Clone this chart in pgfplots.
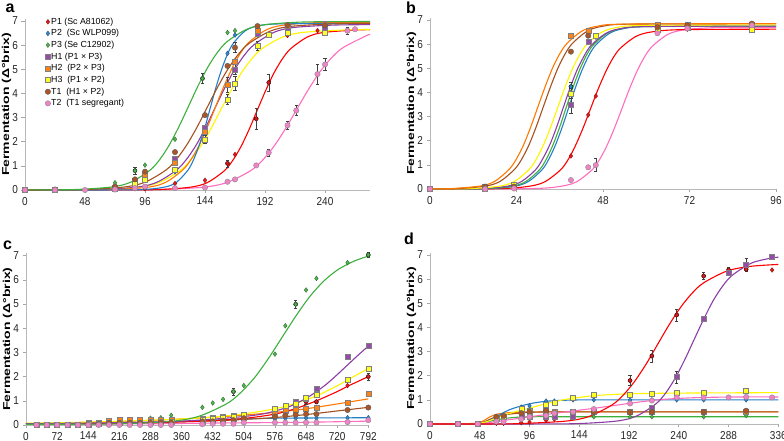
\documentclass[border=0pt]{standalone}
\usepackage{fontspec}
\setmainfont{Liberation Sans}
\usepackage{graphicx}
\usepackage{pgfplots}
\pgfplotsset{compat=1.18}

\definecolor{lRed}{RGB}{255,0,0}
\definecolor{lBlue}{RGB}{35,125,200}
\definecolor{lGreen}{RGB}{60,175,60}
\definecolor{lPurple}{RGB}{140,60,165}
\definecolor{lOrange}{RGB}{255,120,0}
\definecolor{lYellow}{RGB}{255,245,0}
\definecolor{lBrown}{RGB}{165,80,30}
\definecolor{lPink}{RGB}{255,110,190}
\definecolor{mRed}{RGB}{230,25,25}
\definecolor{mBlue}{RGB}{50,135,205}
\definecolor{mGreen}{RGB}{80,180,80}
\definecolor{mPurple}{RGB}{150,75,170}
\definecolor{mOrange}{RGB}{255,130,20}
\definecolor{mYellow}{RGB}{255,255,40}
\definecolor{mBrown}{RGB}{170,85,40}
\definecolor{mPink}{RGB}{240,130,200}

\pgfplotsset{
  base/.style={
    scale only axis, clip=false, anchor=south west,
    axis lines*=left,
    axis line style={-, draw=black!28, line width=0.8pt},
    tick align=outside, major tick length=3.5pt,
    tick style={draw=black!35, line width=0.6pt},
    ymin=0, ymax=7.1, ytick={0,1,...,7},
    tick label style={font=\fontsize{10}{10}\selectfont, text=black!85},
    /pgf/number format/assume math mode=true,
    xticklabel={\scalebox{1}[1.15]{\pgfmathprintnumber{\tick}}},
    yticklabel={\scalebox{1}[1.15]{\pgfmathprintnumber{\tick}}},
    every axis y label/.style={at={([xshift=-18.5pt]axis description cs:0,0.5)}, rotate=90, anchor=center},
    ylabel={\scalebox{1.4}[1]{\bfseries\fontsize{10}{10}\selectfont Fermentation (Δ°brix)}},
  },
  cv/.style={smooth, no markers, line width=1.1pt, forget plot, color=#1},
  eb/.style={only marks, mark=none, forget plot,
    error bars/.cd, y dir=both, y explicit,
    error bar style={black!75, line width=0.5pt},
    error mark options={rotate=90, mark size=1.6pt, black!75, line width=0.5pt}},
  sP1/.style={only marks, mark=diamond*, mark size=2.4pt, color=mRed, mark options={fill=mRed, draw=mRed!60!black, line width=0.35pt}},
  sP2/.style={only marks, mark=diamond*, mark size=2.4pt, color=mBlue, mark options={fill=mBlue, draw=mBlue!60!black, line width=0.35pt}},
  sP3/.style={only marks, mark=diamond*, mark size=2.4pt, color=mGreen, mark options={fill=mGreen, draw=mGreen!60!black, line width=0.35pt}},
  sH1/.style={only marks, mark=square*, mark size=2.5pt, color=mPurple, mark options={fill=mPurple, draw=black!50, line width=0.4pt}},
  sH2/.style={only marks, mark=square*, mark size=2.5pt, color=mOrange, mark options={fill=mOrange, draw=black!50, line width=0.4pt}},
  sH3/.style={only marks, mark=square*, mark size=2.5pt, color=mYellow, mark options={fill=mYellow, draw=black!50, line width=0.4pt}},
  sT1/.style={only marks, mark=*, mark size=2.7pt, color=mBrown, mark options={fill=mBrown, draw=black!65, line width=0.4pt}},
  sT2/.style={only marks, mark=*, mark size=2.7pt, color=mPink, mark options={fill=mPink, draw=black!45, line width=0.4pt}},
}

\begin{document}
\begin{tikzpicture}[x=1pt,y=1pt]
\useasboundingbox (0,0) rectangle (784,441);

% ---------------- panel a ----------------
\begin{axis}[base, at={(25pt,251pt)}, width=345pt, height=171.4pt,
  xmin=0, xmax=276, xtick={0,48,...,240},
  legend style={at={(axis description cs:0.058,1.011)}, anchor=north west, draw=none, fill=none,
    inner sep=0pt, font=\fontsize{8.8}{9}\selectfont, row sep=1.85pt,
    nodes={inner sep=0.6pt, text height=6.8pt, text depth=1.8pt}, cells={anchor=west}},
  legend image code/.code={\draw[#1] plot coordinates {(0.08cm,0cm)};}]
\addplot[cv=lPink] coordinates {(0,0)(60,0.001)(106.5,0.017)(143.5,0.12)(162,0.32)(180.5,0.80)(189.8,1.22)(199,1.80)(208.3,2.53)(217.5,3.35)(226.8,4.17)(236,4.90)(245.3,5.48)(254.5,5.90)(273,6.39)(276,6.44)};
\addplot[cv=lRed] coordinates {(0,0)(60,0.002)(106,0.017)(132.7,0.12)(146,0.31)(159.3,0.79)(166,1.21)(172.7,1.79)(179.3,2.51)(186,3.33)(192.7,4.14)(199.3,4.86)(206,5.44)(212.7,5.86)(226,6.34)(239.3,6.53)(266,6.63)(276,6.64)};
\addplot[cv=lYellow] coordinates {(0,0)(57.7,0.017)(90.7,0.12)(107.2,0.31)(123.7,0.79)(132,1.21)(140.2,1.79)(148.5,2.51)(156.7,3.33)(165,4.14)(173.2,4.86)(181.5,5.44)(189.7,5.86)(206.2,6.34)(222.7,6.53)(255.7,6.63)(276,6.65)};
\addplot[cv=lPurple] coordinates {(0,0)(58.7,0.017)(89.9,0.123)(105.5,0.32)(121.1,0.82)(128.9,1.25)(136.7,1.84)(144.5,2.59)(152.3,3.43)(160.1,4.26)(167.9,5.01)(175.7,5.60)(183.5,6.03)(199.1,6.53)(214.7,6.73)(245.9,6.83)(276,6.85)};
\addplot[cv=lOrange] coordinates {(0,0)(40,0.001)(73.2,0.017)(99.7,0.125)(113,0.33)(126.2,0.83)(132.8,1.26)(139.5,1.87)(146.1,2.63)(152.7,3.48)(159.3,4.32)(166,5.08)(172.6,5.69)(179.2,6.12)(192.5,6.62)(205.7,6.82)(232.2,6.93)(276,6.95)};
\addplot[cv=lBlue] coordinates {(0,0)(60,0.001)(94,0.017)(112.1,0.124)(121.2,0.32)(130.3,0.82)(134.9,1.26)(139.4,1.86)(144,2.61)(148.5,3.45)(153,4.29)(157.6,5.04)(162.1,5.64)(166.7,6.08)(175.8,6.58)(184.9,6.78)(203,6.88)(276,6.9)};
\addplot[cv=lBrown] coordinates {(0,0.001)(45.8,0.017)(79.2,0.124)(95.9,0.32)(112.6,0.82)(121,1.26)(129.3,1.86)(137.7,2.61)(146,3.45)(154.4,4.29)(162.7,5.04)(171,5.64)(179.4,6.08)(196.1,6.58)(212.8,6.78)(246.2,6.88)(276,6.9)};
\addplot[cv=lGreen] coordinates {(0,0.002)(38.7,0.017)(69.5,0.126)(84.9,0.33)(100.2,0.83)(107.9,1.27)(115.6,1.88)(123.3,2.64)(131,3.49)(138.7,4.34)(146.4,5.10)(154.1,5.71)(161.8,6.15)(177.1,6.65)(192.5,6.85)(223.3,6.96)(276,6.98)};
\addplot[eb] coordinates {(88,0.8)+-(0,0.15) (142,4.62)+-(0,0.2) (185,2.95)+-(0,0.45) (195,4.45)+-(0,0.35) (162,1.1)+-(0,0.15) (162,4.35)+-(0,0.3) (162,3.75)+-(0,0.2) (168,4.42)+-(0,0.3) (144,2.1)+-(0,0.15) (168,5.0)+-(0,0.2) (210,2.68)+-(0,0.15) (217,3.29)+-(0,0.2) (234,4.8)+-(0,0.4) (240,5.2)+-(0,0.25) (258,6.6)+-(0,0.15) (195,1.55)+-(0,0.15) (168,5.9)+-(0,0.2) (186,5.97)+-(0,0.2)};
\addplot[sP1] coordinates {(0,0)(24,0)(72,0.02)(88,0.05)(96,0.05)(120,0.27)(144,0.4)(162,1.1)(168,1.47)(185,2.95)(195,4.45)(210,6.4)(234,6.6)};
\addlegendentry{P1 (Sc A81062)}
\addplot[sP2] coordinates {(0,0)(24,0)(72,0.05)(88,0.1)(96,0.1)(120,0.75)(144,2.35)(162,5.66)(168,6.42)(186,6.75)(210,6.8)(240,6.85)};
\addlegendentry{P2\hspace{0.55em}(Sc WLP099)}
\addplot[sP3] coordinates {(0,0)(24,0.02)(72,0.3)(88,0.8)(96,1.03)(120,2.1)(142,4.62)(162,6.52)(168,6.6)};
\addlegendentry{P3 (Se C12902)}
\addplot[sH1] coordinates {(0,0)(24,0)(72,0.08)(88,0.3)(96,0.5)(120,1.3)(144,2.58)(168,5.0)(186,6.46)(210,6.6)(240,6.7)};
\addlegendentry{H1 (P1 × P3)}
\addplot[sH2] coordinates {(0,0)(24,0)(72,0.1)(88,0.4)(96,0.62)(120,1.13)(144,2.4)(162,4.35)(168,5.3)(186,6.6)(210,6.8)(240,6.9)};
\addlegendentry{H2\hspace{0.55em}(P2 × P3)}
\addplot[sH3] coordinates {(0,0)(24,0)(72,0.05)(88,0.28)(96,0.41)(120,0.83)(144,2.1)(162,3.75)(168,4.42)(186,5.97)(195,6.45)(210,6.52)(240,6.52)};
\addlegendentry{H3\hspace{0.55em}(P1 × P2)}
\addplot[sT1] coordinates {(0,0)(24,0.02)(72,0.14)(88,0.44)(96,0.76)(120,1.57)(144,3.1)(162,5.14)(168,5.9)(186,6.79)(210,6.83)(240,6.83)};
\addlegendentry{T1\hspace{0.55em}(H1 × P2)}
\addplot[sT2] coordinates {(0,0)(24,0)(48,0)(72,0.02)(88,0.08)(96,0.14)(120,0.08)(144,0.1)(162,0.34)(168,0.44)(185,1.02)(195,1.55)(210,2.68)(217,3.29)(234,4.8)(240,5.2)(258,6.6)(264,6.66)};
\addlegendentry{T2\hspace{0.55em}(T1 segregant)}
\end{axis}

% ---------------- panel b ----------------
\begin{axis}[base, at={(430pt,252pt)}, width=346pt, height=171.4pt,
  xmin=0, xmax=96, xtick={0,24,...,96}]
\addplot[cv=lPink] coordinates {(0,0)(28.3,0.017)(36.6,0.12)(40.8,0.31)(45,0.80)(47.05,1.22)(49.1,1.80)(51.2,2.53)(53.3,3.35)(55.4,4.17)(57.5,4.90)(59.55,5.48)(61.6,5.90)(65.8,6.39)(70,6.58)(78.3,6.68)(96,6.7)};
\addplot[cv=lRed] coordinates {(0,0)(19.5,0.017)(27.8,0.12)(32,0.31)(36.2,0.79)(38.25,1.20)(40.3,1.78)(42.4,2.50)(44.5,3.31)(46.6,4.12)(48.7,4.84)(50.75,5.42)(52.8,5.83)(57,6.31)(61.2,6.50)(69.5,6.60)(96,6.62)};
\addplot[cv=lBlue] coordinates {(0,0.002)(16.3,0.017)(23.7,0.12)(27.4,0.32)(31.1,0.80)(32.95,1.23)(34.8,1.82)(36.65,2.55)(38.5,3.38)(40.35,4.20)(42.2,4.93)(44.05,5.52)(45.9,5.95)(49.6,6.43)(53.3,6.63)(60.7,6.73)(96,6.75)};
\addplot[cv=lGreen] coordinates {(0,0.002)(15.6,0.017)(23,0.12)(26.7,0.32)(30.4,0.80)(32.25,1.23)(34.1,1.82)(35.95,2.55)(37.8,3.38)(39.65,4.20)(41.5,4.93)(43.35,5.52)(45.2,5.95)(48.9,6.43)(52.6,6.63)(60,6.73)(96,6.75)};
\addplot[cv=lPurple] coordinates {(0,0.002)(13.9,0.017)(21.6,0.12)(25.5,0.32)(29.3,0.80)(31.2,1.23)(33.2,1.82)(35.1,2.55)(37,3.38)(38.9,4.20)(40.8,4.93)(42.8,5.52)(44.7,5.95)(48.6,6.43)(52.4,6.63)(60.1,6.73)(96,6.75)};
\addplot[cv=lYellow] coordinates {(0,0.002)(11.5,0.017)(19.5,0.122)(23.5,0.32)(27.5,0.81)(29.5,1.24)(31.5,1.83)(33.5,2.57)(35.5,3.4)(37.5,4.23)(39.5,4.97)(41.5,5.56)(43.5,5.99)(47.5,6.48)(51.5,6.68)(59.5,6.78)(96,6.8)};
\addplot[cv=lBrown] coordinates {(0,0.003)(7.5,0.017)(15.5,0.123)(19.5,0.32)(23.5,0.82)(25.5,1.25)(27.5,1.84)(29.5,2.59)(31.5,3.43)(33.5,4.26)(35.5,5.01)(37.5,5.60)(39.5,6.03)(43.5,6.53)(47.5,6.73)(55.5,6.83)(96,6.85)};
\addplot[cv=lOrange] coordinates {(0,0.004)(6,0.017)(14,0.123)(18,0.32)(22,0.82)(24,1.25)(26,1.84)(28,2.59)(30,3.43)(32,4.26)(34,5.01)(36,5.60)(38,6.03)(42,6.53)(46,6.73)(54,6.83)(96,6.85)};
\addplot[eb] coordinates {(39.1,3.48)+-(0,0.35) (46,0.99)+-(0,0.27) (39.1,4.24)+-(0,0.2) (39.1,3.96)+-(0,0.2)};
\addplot[sP1] coordinates {(0,0)(15.3,0)(23.3,0.02)(39.1,1.37)(43.9,3.07)(46,3.85)(63.1,6.6)(71.4,6.62)(89.3,6.62)};
\addplot[sP2] coordinates {(0,0)(15.3,0.02)(23.3,0.05)(39.1,4.24)(46,6.3)(63.1,6.75)(71.4,6.75)(89.3,6.8)};
\addplot[sP3] coordinates {(0,0)(15.3,0.02)(23.3,0.05)(39.1,4.0)(46,6.3)(63.1,6.75)(71.4,6.75)(89.3,6.8)};
\addplot[sH1] coordinates {(0,0)(15.3,0.03)(23.3,0.1)(39.1,3.48)(43.9,6.1)(63.1,6.75)(71.4,6.75)(89.3,6.8)};
\addplot[sH2] coordinates {(0,0)(15.3,0.1)(23.3,0.15)(39.1,6.35)(43.9,6.56)(63.1,6.82)(71.4,6.8)(89.3,6.82)};
\addplot[sH3] coordinates {(0,0)(15.3,0.05)(23.3,0.18)(39.1,3.96)(46,6.35)(63.1,6.6)(71.4,6.7)(89.3,6.6)};
\addplot[sT1] coordinates {(0,0)(15.3,0.1)(23.3,0.1)(39.1,5.69)(43.9,6.35)(63.1,6.7)(71.4,6.78)(89.3,6.85)};
\addplot[sT2] coordinates {(0,0)(15.3,0)(23.3,0.02)(39.1,0.37)(43.9,0.9)(46,0.99)(63.1,6.45)(71.4,6.65)(89.3,6.78)};
\end{axis}

% ---------------- panel c ----------------
\begin{axis}[base, at={(26pt,16pt)}, width=342.3pt, height=171.8pt,
  xmin=0, xmax=792, xtick={0,72,...,792}]
\addplot[cv=lPink] coordinates {(0,0.03)(288,0.05)(432,0.08)(576,0.1)(672,0.12)(792,0.16)};
\addplot[cv=lBlue] coordinates {(0,0.04)(144,0.06)(288,0.1)(360,0.15)(432,0.2)(504,0.25)(576,0.28)(648,0.29)(792,0.3)};
\addplot[cv=lBrown] coordinates {(0,0.04)(144,0.06)(288,0.1)(432,0.17)(504,0.23)(576,0.31)(648,0.43)(720,0.58)(792,0.73)};
\addplot[cv=lOrange] coordinates {(0,0.06)(144,0.11)(288,0.19)(432,0.32)(504,0.41)(576,0.52)(648,0.67)(720,0.87)(792,1.08)};
\addplot[cv=lRed] coordinates {(0,0.05)(144,0.06)(288,0.1)(360,0.13)(432,0.18)(504,0.27)(576,0.45)(624,0.68)(672,1.0)(720,1.38)(744,1.6)(768,1.8)(792,2.0)};
\addplot[cv=lYellow] coordinates {(0,0.07)(144,0.12)(288,0.2)(360,0.25)(432,0.33)(504,0.46)(576,0.67)(624,0.9)(672,1.2)(720,1.62)(744,1.86)(768,2.1)(792,2.33)};
\addplot[cv=lPurple] coordinates {(0,0.05)(144,0.08)(288,0.12)(360,0.16)(432,0.24)(504,0.35)(552,0.47)(600,0.7)(624,0.88)(648,1.1)(672,1.38)(696,1.7)(720,2.08)(744,2.48)(768,2.88)(792,3.26)};
\addplot[cv=lGreen] coordinates {(0,0.03)(206.5,0.045)(335.5,0.15)(400,0.36)(464.5,0.88)(496.8,1.34)(529,1.96)(561.3,2.76)(593.5,3.65)(625.8,4.54)(658,5.34)(690.3,5.97)(722.5,6.43)(760,6.78)(792,6.98)};
\addplot[eb] coordinates {(480,1.38)+-(0,0.15) (624,4.99)+-(0,0.15) (792,7.03)+-(0,0.1) (792,2.0)+-(0,0.15) (648,0.96)+-(0,0.1) (672,0.96)+-(0,0.08) (792,2.31)+-(0,0.1)};
\addplot[sP1] coordinates {(24,0)(48,0)(72,0)(96,0)(120,0)(144,0.02)(168,0.02)(192,0.05)(216,0.05)(240,0.05)(264,0.05)(288,0.08)(312,0.08)(336,0.08)(408,0.1)(432,0.12)(456,0.15)(480,0.2)(504,0.22)(576,0.48)(600,0.55)(624,0.7)(648,0.96)(672,0.96)(744,1.63)(792,2.0)};
\addplot[sP2] coordinates {(24,0)(48,0)(72,0)(96,0)(120,0)(144,0.02)(168,0.03)(192,0.05)(216,0.06)(240,0.08)(264,0.08)(288,0.1)(312,0.1)(336,0.12)(408,0.12)(432,0.15)(456,0.18)(480,0.2)(504,0.2)(576,0.25)(600,0.27)(624,0.28)(648,0.28)(672,0.28)(744,0.3)(792,0.3)};
\addplot[sP3] coordinates {(24,0)(48,0)(72,0)(96,0)(120,0)(144,0.02)(168,0.03)(192,0.05)(216,0.1)(240,0.12)(264,0.15)(288,0.28)(312,0.3)(336,0.4)(408,0.73)(432,0.91)(456,1.06)(480,1.38)(504,1.63)(576,2.93)(600,4.1)(624,4.99)(648,5.58)(672,6.06)(744,6.71)(792,7.03)};
\addplot[sH1] coordinates {(24,0)(48,0)(72,0)(96,0)(120,0)(144,0.03)(168,0.05)(192,0.08)(216,0.08)(240,0.1)(264,0.1)(288,0.12)(312,0.12)(336,0.15)(408,0.15)(432,0.18)(456,0.2)(480,0.28)(504,0.3)(576,0.5)(600,0.6)(624,0.96)(648,1.1)(672,1.49)(744,2.82)(792,3.26)};
\addplot[sH2] coordinates {(24,0)(48,0)(72,0)(96,0)(120,0.02)(144,0.1)(168,0.1)(192,0.18)(216,0.2)(240,0.2)(264,0.2)(288,0.2)(312,0.22)(336,0.22)(408,0.27)(432,0.32)(456,0.36)(480,0.39)(504,0.4)(576,0.55)(600,0.63)(624,0.63)(648,0.67)(672,0.7)(744,0.94)(792,1.28)};
\addplot[sH3] coordinates {(24,0)(48,0)(72,0)(96,0)(120,0)(144,0.05)(168,0.05)(192,0.08)(216,0.1)(240,0.1)(264,0.1)(288,0.12)(312,0.12)(336,0.15)(408,0.22)(432,0.25)(456,0.3)(480,0.35)(504,0.44)(576,0.69)(600,0.8)(624,0.9)(648,1.13)(672,1.24)(744,1.86)(792,2.31)};
\addplot[sT1] coordinates {(24,0)(48,0)(72,0)(96,0)(120,0)(144,0.02)(168,0.03)(192,0.08)(216,0.08)(240,0.08)(264,0.08)(288,0.1)(312,0.1)(336,0.1)(408,0.15)(432,0.15)(456,0.18)(480,0.2)(504,0.28)(576,0.35)(600,0.39)(624,0.43)(648,0.45)(672,0.45)(744,0.62)(792,0.72)};
\addplot[sT2] coordinates {(24,0)(48,0)(72,0)(96,0)(120,0)(144,0)(168,0)(192,0)(216,0)(240,0)(264,0)(288,0)(312,0)(336,0)(408,0.03)(432,0.05)(456,0.05)(480,0.05)(504,0.1)(576,0.1)(600,0.1)(624,0.1)(648,0.1)(672,0.1)(744,0.12)(792,0.2)};
\end{axis}

% ---------------- panel d ----------------
\begin{axis}[base, at={(430pt,17pt)}, width=348.3pt, height=171.4pt,
  xmin=0, xmax=336, xtick={0,48,...,336}]
\addplot[cv=lGreen] coordinates {(0,0)(40,0.01)(52,0.06)(64,0.17)(76,0.25)(96,0.3)(150,0.3)(336,0.3)};
\addplot[cv=lOrange] coordinates {(0,0)(40,0.02)(50,0.1)(58,0.3)(66,0.42)(80,0.48)(100,0.5)(150,0.5)(336,0.5)};
\addplot[cv=lBrown] coordinates {(0,0)(40,0.01)(50,0.05)(58,0.2)(64,0.3)(72,0.38)(88,0.46)(110,0.5)(150,0.5)(336,0.5)};
\addplot[cv=lBlue] coordinates {(0,0)(40,0.01)(52,0.06)(60,0.2)(68,0.4)(76,0.58)(88,0.75)(100,0.87)(112,0.94)(128,0.98)(160,1.0)(336,1.0)};
\addplot[cv=lPink] coordinates {(0,0)(48,0.02)(60,0.08)(80,0.2)(100,0.32)(120,0.44)(140,0.55)(160,0.66)(180,0.78)(200,0.9)(220,1.0)(240,1.06)(264,1.1)(300,1.12)(336,1.12)};
\addplot[cv=lYellow] coordinates {(0,0)(40,0.01)(52,0.06)(60,0.18)(68,0.32)(80,0.48)(96,0.66)(112,0.84)(128,1.0)(144,1.1)(160,1.18)(192,1.25)(240,1.28)(336,1.3)};
\addplot[cv=lPurple] coordinates {(0,0)(100,0.002)(143.8,0.018)(180.8,0.126)(199.3,0.33)(217.8,0.83)(227.1,1.27)(236.3,1.88)(245.6,2.65)(254.8,3.5)(264.1,4.35)(273.3,5.12)(282.6,5.73)(291.8,6.17)(310.3,6.67)(328.8,6.87)(336,6.91)};
\addplot[cv=lRed] coordinates {(0,0)(60,0.002)(86.7,0.017)(131.1,0.12)(153.3,0.31)(175.6,0.79)(186.7,1.21)(197.8,1.79)(208.9,2.51)(220,3.33)(231.1,4.14)(242.2,4.86)(253.3,5.44)(264.4,5.86)(286.7,6.34)(308.9,6.53)(336,6.61)};
\addplot[eb] coordinates {(193,1.8)+-(0,0.2) (214,2.82)+-(0,0.25) (238,4.52)+-(0,0.25) (264,6.13)+-(0,0.15) (238,1.95)+-(0,0.25) (305,6.6)+-(0,0.25) (288,6.38)+-(0,0.1) (305,6.41)+-(0,0.1)};
\addplot[sP1] coordinates {(0,0)(27,0)(46,0)(64,0.03)(71,0.03)(88,0.05)(96,0.08)(112,0.15)(120,0.2)(193,1.8)(214,2.82)(238,4.52)(264,6.13)(288,6.38)(305,6.41)(330,6.38)};
\addplot[sP2] coordinates {(0,0)(27,0)(46,0)(64,0.2)(71,0.3)(88,0.7)(96,0.75)(112,0.95)(120,0.95)(138,1.0)(158,1.0)(193,1.0)(214,1.0)(238,1.0)(264,1.0)(305,1.0)};
\addplot[sP3] coordinates {(0,0)(27,0)(46,0)(64,0.1)(71,0.1)(88,0.2)(96,0.25)(112,0.3)(120,0.3)(138,0.3)(158,0.3)(193,0.3)(214,0.3)(264,0.3)(305,0.35)};
\addplot[sH1] coordinates {(0,0)(27,0)(46,0)(64,0.25)(71,0.3)(88,0.3)(96,0.3)(112,0.3)(120,0.3)(138,0.32)(214,0.68)(238,1.95)(264,4.37)(288,6.25)(305,6.6)(330,6.92)};
\addplot[sH2] coordinates {(0,0)(27,0)(46,0)(64,0.28)(71,0.32)(88,0.5)(96,0.55)(112,0.55)(120,0.5)(138,0.5)(158,0.5)(193,0.5)(214,0.5)(264,0.5)(305,0.5)};
\addplot[sH3] coordinates {(0,0)(27,0)(46,0)(64,0.2)(71,0.3)(88,0.62)(96,0.55)(112,0.8)(120,0.88)(138,1.1)(158,1.2)(193,1.2)(214,1.27)(238,1.3)(264,1.3)(305,1.38)};
\addplot[sT1] coordinates {(0,0)(27,0)(46,0)(64,0.3)(71,0.33)(88,0.45)(96,0.51)(112,0.55)(120,0.45)(138,0.5)(158,0.5)(193,0.48)(214,0.5)(264,0.5)(305,0.55)};
\addplot[sT2] coordinates {(0,0)(27,0)(46,0)(64,0.1)(71,0.1)(88,0.2)(96,0.3)(112,0.35)(120,0.44)(138,0.5)(158,0.62)(193,0.85)(214,0.97)(238,1.1)(264,1.1)(288,1.1)(305,1.12)(330,1.1)};
\end{axis}

% panel letters
\node[anchor=base, font=\bfseries\fontsize{16}{16}\selectfont, inner sep=0pt] at (10,428.3) {a};
\node[anchor=base, font=\bfseries\fontsize{16}{16}\selectfont, inner sep=0pt] at (411,427.7) {b};
\node[anchor=base, font=\bfseries\fontsize{16}{16}\selectfont, inner sep=0pt] at (7.5,191.7) {c};
\node[anchor=base, font=\bfseries\fontsize{16}{16}\selectfont, inner sep=0pt] at (409,196) {d};
\end{tikzpicture}
\end{document}
